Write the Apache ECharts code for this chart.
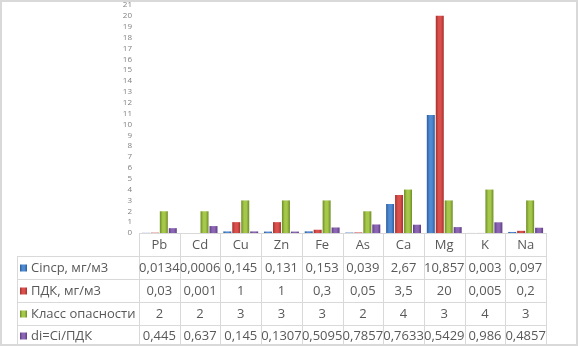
<!DOCTYPE html>
<html>
<head>
<meta charset="utf-8">
<script src="https://cdn.jsdelivr.net/npm/echarts@6/dist/echarts.min.js"></script>
<style>
html, body { margin: 0; padding: 0; background: #fff; }
#main { width: 579px; height: 346px; }
</style>
</head>
<body>
<div id="main"></div>
<script>
var categories = ['Pb', 'Cd', 'Cu', 'Zn', 'Fe', 'As', 'Ca', 'Mg', 'K', 'Na'];
var seriesNames = ['Cincp, мг/м3', 'ПДК, мг/м3', 'Класс опасности', 'di=Ci/ПДК'];
var ciValues = [0.0134, 0.0006, 0.145, 0.131, 0.153, 0.039, 2.67, 10.857, 0.003, 0.097];
var pdkValues = [0.03, 0.001, 1, 1, 0.3, 0.05, 3.5, 20, 0.005, 0.2];
var classValues = [2, 2, 3, 3, 3, 2, 4, 3, 4, 3];
var diValues = [0.445, 0.637, 0.145, 0.1307, 0.5095, 0.7857, 0.7633, 0.5429, 0.986, 0.4857];

var chart = echarts.init(document.getElementById('main'), null, {renderer: 'canvas'});

var fontFamily = 'Open Sans';
var textColor = '#595959';
var lineColor = '#d9d9d9';

// [edge, centre] colours for the bevelled bars
var palette = [
    ['#2c5d9c', '#4f8ad2'],
    ['#a52f2c', '#d9504c'],
    ['#6c8c26', '#a5c74a'],
    ['#5c3d84', '#8c66b4']
];
function barFill(c) {
    return new echarts.graphic.LinearGradient(0, 0, 1, 0, [
        {offset: 0, color: c[0]},
        {offset: 0.35, color: c[1]},
        {offset: 0.65, color: c[1]},
        {offset: 1, color: c[0]}
    ]);
}

var allValues = [ciValues, pdkValues, classValues, diValues];

// data table geometry
var gridLeft = 139, gridRight = 546, gridBottomY = 233;
var colW = (gridRight - gridLeft) / categories.length;
var rowY = [233, 256, 279, 302, 325, 346];
var labelLeft = 17;

function fmt(v) { return String(v).replace('.', ','); }

var graphics = [];
// outer border
graphics.push({type: 'rect', shape: {x: 1, y: 1, width: 576, height: 344},
    style: {fill: null, stroke: lineColor, lineWidth: 2}, silent: true});
// horizontal table lines
graphics.push({type: 'line', shape: {x1: gridLeft, y1: rowY[0] + 0.5, x2: gridRight, y2: rowY[0] + 0.5},
    style: {stroke: lineColor, lineWidth: 1}});
for (var r = 1; r < 5; r++) {
    graphics.push({type: 'line', shape: {x1: labelLeft, y1: rowY[r] + 0.5, x2: gridRight, y2: rowY[r] + 0.5},
        style: {stroke: lineColor, lineWidth: 1}});
}
// vertical table lines
graphics.push({type: 'line', shape: {x1: labelLeft + 0.5, y1: rowY[1], x2: labelLeft + 0.5, y2: 346},
    style: {stroke: lineColor, lineWidth: 1}});
for (var c = 0; c <= categories.length; c++) {
    var x = Math.round(gridLeft + c * colW) + 0.5;
    graphics.push({type: 'line', shape: {x1: x, y1: rowY[0], x2: x, y2: 346},
        style: {stroke: lineColor, lineWidth: 1}});
}
// header row
categories.forEach(function (name, i) {
    graphics.push({type: 'text', x: gridLeft + (i + 0.5) * colW, y: (rowY[0] + rowY[1]) / 2 + 1,
        style: {text: name, fill: textColor, font: '13px "' + fontFamily + '"', textAlign: 'center', textVerticalAlign: 'middle'}});
});
// value rows
allValues.forEach(function (vals, r) {
    var cy = (rowY[r + 1] + rowY[r + 2]) / 2 + 1;
    graphics.push({type: 'rect', shape: {x: 20, y: cy - 4, width: 7, height: 7},
        style: {fill: barFill(palette[r])}});
    graphics.push({type: 'text', x: 31, y: cy,
        style: {text: seriesNames[r], fill: textColor, font: '13px "' + fontFamily + '"', textAlign: 'left', textVerticalAlign: 'middle'}});
    vals.forEach(function (v, i) {
        graphics.push({type: 'text', x: gridLeft + (i + 0.5) * colW, y: cy,
            style: {text: fmt(v), fill: textColor, font: '13px "' + fontFamily + '"', textAlign: 'center', textVerticalAlign: 'middle'}});
    });
});

var option = {
    animation: false,
    grid: {left: gridLeft, right: 579 - gridRight, top: 5, bottom: 346 - gridBottomY},
    xAxis: {
        type: 'category',
        data: categories,
        axisLine: {show: false},
        axisTick: {show: false},
        axisLabel: {show: false}
    },
    yAxis: {
        type: 'value',
        min: 0,
        max: 21,
        interval: 1,
        axisLine: {show: false},
        axisTick: {show: false},
        splitLine: {show: false},
        axisLabel: {color: '#808080', fontSize: 8, fontFamily: fontFamily, margin: 7}
    },
    series: allValues.map(function (vals, i) {
        return {
            name: seriesNames[i],
            type: 'bar',
            data: vals,
            barWidth: 8,
            barGap: '12%',
            itemStyle: {color: barFill(palette[i])}
        };
    }),
    graphic: graphics
};
chart.setOption(option);
</script>
</body>
</html>
